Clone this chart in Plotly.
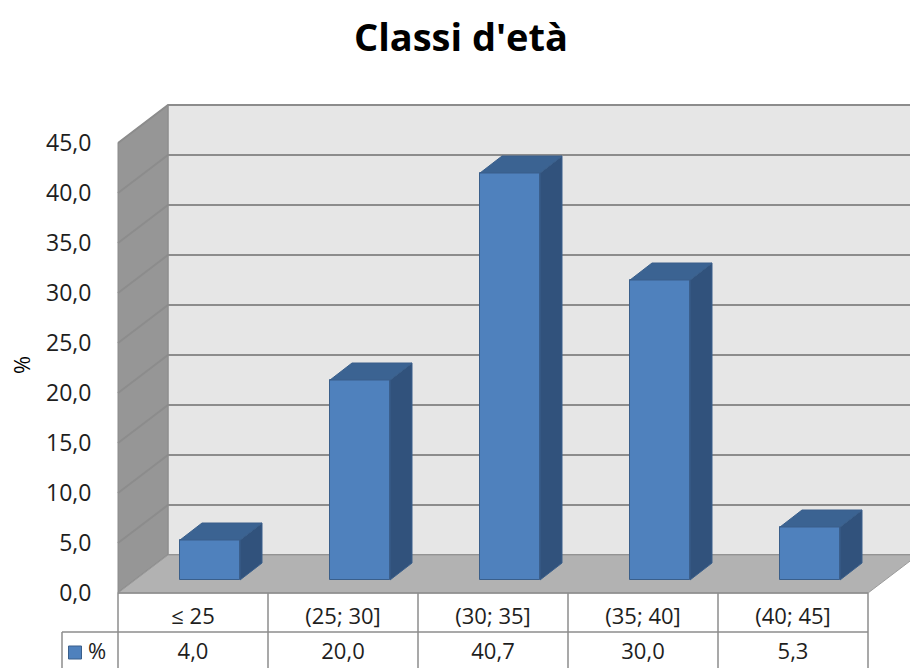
import plotly.graph_objects as go

# ---- data ----
categories = ["≤ 25", "(25; 30]", "(30; 35]", "(35; 40]", "(40; 45]"]
values = [4.0, 20.0, 40.7, 30.0, 5.3]
series_name = "%"
title = "Classi d'età"
y_ticks = [0, 5, 10, 15, 20, 25, 30, 35, 40, 45]

# ---- geometry (in axis units: 1 x unit = one category, y = value) ----
DX, DY = 50 / 150, 3.8          # full depth offset of the 3D box
BX, BY = 17 / 150, 1.3          # depth of bar front face
BDX, BDY = 22 / 150, 1.7        # bar depth
BW = 0.4                        # bar width
YMAX = 45
n = len(categories)
L, R = -0.5, n - 0.5

BLUE = "#4f81bd"
SIDE = "#31527c"
TOP = "#3b6392"
EDGE = "#3a5f8b"
GRID = "#8c8c8c"
TXT = "#1e1e1e"
FONT = "Open Sans"

fig = go.Figure()

shapes = []
def poly(pts):
    return "M " + " L ".join(f"{x},{y}" for x, y in pts) + " Z"

# back wall
shapes.append(dict(type="path", xref="x", yref="y", layer="below",
                   path=poly([(L + DX, DY), (R + DX + 1, DY), (R + DX + 1, YMAX + DY), (L + DX, YMAX + DY)]),
                   fillcolor="#e6e6e6", line=dict(color=GRID, width=1)))
# side wall
shapes.append(dict(type="path", xref="x", yref="y", layer="below",
                   path=poly([(L, 0), (L, YMAX), (L + DX, YMAX + DY), (L + DX, DY)]),
                   fillcolor="#969696", line=dict(color="#8a8a8a", width=1)))
# gridlines
for t in y_ticks:
    shapes.append(dict(type="path", xref="x", yref="y", layer="below",
                       path=f"M {L},{t} L {L+DX},{t+DY} L {R+DX+1},{t+DY}",
                       line=dict(color=GRID, width=2)))
# floor
shapes.append(dict(type="path", xref="x", yref="y", layer="below",
                   path=poly([(L, 0), (R, 0), (R + DX, DY), (L + DX, DY)]),
                   fillcolor="#b2b2b2", line=dict(color="#9a9a9a", width=1)))

# data table
ROW1 = -3.9
BOT = -7.5
LEG = -131 / 150
tcol = "#8c8c8c"
shapes.append(dict(type="line", xref="x", yref="y", x0=L, x1=R, y0=0, y1=0, line=dict(color=tcol, width=1.5)))
shapes.append(dict(type="line", xref="x", yref="y", x0=LEG, x1=R, y0=ROW1, y1=ROW1, line=dict(color=tcol, width=1.5)))
for i in range(n + 1):
    shapes.append(dict(type="line", xref="x", yref="y", x0=L + i, x1=L + i, y0=0, y1=BOT, line=dict(color=tcol, width=1.5)))
shapes.append(dict(type="line", xref="x", yref="y", x0=LEG, x1=LEG, y0=ROW1, y1=BOT, line=dict(color=tcol, width=1.5)))

# bar side and top faces
for i, v in enumerate(values):
    xl = i + BX - BW / 2
    xr = i + BX + BW / 2
    side = [(xr, BY), (xr, BY + v), (xr + BDX, BY + BDY + v), (xr + BDX, BY + BDY), (xr, BY)]
    top = [(xl, BY + v), (xr, BY + v), (xr + BDX, BY + BDY + v), (xl + BDX, BY + BDY + v), (xl, BY + v)]
    fig.add_trace(go.Scatter(x=[p[0] for p in side], y=[p[1] for p in side], mode="lines",
                             fill="toself", fillcolor=SIDE, line=dict(color=EDGE, width=1),
                             hoverinfo="skip", showlegend=False))
    fig.add_trace(go.Scatter(x=[p[0] for p in top], y=[p[1] for p in top], mode="lines",
                             fill="toself", fillcolor=TOP, line=dict(color=EDGE, width=1),
                             hoverinfo="skip", showlegend=False))

# bar front faces
fig.add_trace(go.Bar(x=[i + BX for i in range(n)], y=values, base=BY, width=BW,
                     marker=dict(color=BLUE, line=dict(color=EDGE, width=1)),
                     name=series_name, showlegend=False))

# table text
fig.add_trace(go.Scatter(x=list(range(n)), y=[-2.5] * n, mode="text", text=categories,
                         textfont=dict(family=FONT, size=22, color=TXT), hoverinfo="skip", showlegend=False))
fig.add_trace(go.Scatter(x=list(range(n)), y=[-6.0] * n, mode="text",
                         text=[f"{v:.1f}".replace(".", ",") for v in values],
                         textfont=dict(family=FONT, size=22, color=TXT), hoverinfo="skip", showlegend=False))
fig.add_trace(go.Scatter(x=[-118 / 150], y=[-5.95], mode="markers",
                         marker=dict(symbol="square", size=13, color=BLUE, line=dict(color=EDGE, width=1)),
                         hoverinfo="skip", showlegend=False))
fig.add_trace(go.Scatter(x=[-96 / 150], y=[-6.0], mode="text", text=[series_name],
                         textfont=dict(family=FONT, size=22, color=TXT), hoverinfo="skip", showlegend=False))

fig.update_layout(
    width=910, height=668,
    margin=dict(l=0, r=0, t=0, b=0),
    paper_bgcolor="white", plot_bgcolor="rgba(0,0,0,0)",
    separators=", ",
    shapes=shapes,
    title=dict(text=title, x=461 / 910, xanchor="center", y=1 - 38 / 668, yanchor="middle",
               font=dict(family=FONT, size=38, color="black", weight="bold")),
    xaxis=dict(range=[-193 / 150, (910 - 193) / 150], visible=False, fixedrange=True),
    yaxis=dict(range=[-7.5, 59.3], anchor="free", position=100 / 910,
               tickvals=y_ticks, tickformat=".1f", showgrid=False, zeroline=False,
               showline=False, ticks="outside", ticklen=4, tickcolor="rgba(0,0,0,0)",
               tickfont=dict(family=FONT, size=23, color=TXT)),
    annotations=[dict(text="%", xref="paper", yref="paper", x=21 / 910, y=1 - 365 / 668,
                      xanchor="center", yanchor="middle",
                      textangle=-90, showarrow=False, font=dict(family=FONT, size=22, color="black"))],
    bargap=0,
)

fig.write_html("out.html")
